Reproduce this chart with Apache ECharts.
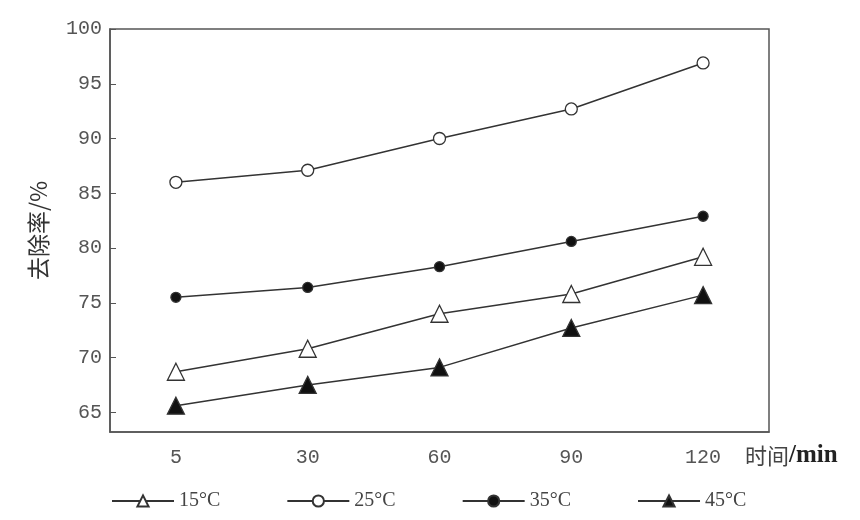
<!DOCTYPE html>
<html><head><meta charset="utf-8">
<script src="https://cdn.jsdelivr.net/npm/echarts@6/dist/echarts.min.js"></script>
<style>html,body{margin:0;padding:0;background:#fff}#c{width:860px;height:520px}</style>
</head><body><div id="c"></div>
<script>
const categories = ['5', '30', '60', '90', '120'];
const s15 = [68.7, 70.8, 74.0, 75.8, 79.2];
const s25 = [86.0, 87.1, 90.0, 92.7, 96.9];
const s35 = [75.5, 76.4, 78.3, 80.6, 82.9];
const s45 = [65.6, 67.5, 69.1, 72.7, 75.7];
const seriesNames = ['15°C', '25°C', '35°C', '45°C'];

const lineColor = '#333';
const serif = '"Liberation Serif", "DejaVu Serif", serif';
const digits = '"Liberation Mono", monospace';
const cjk = '"Noto Sans CJK SC", sans-serif';
const chart = echarts.init(document.getElementById('c'));
function mk(name, data, symbol, size, fill) {
  return {
    name, type: 'line', data, symbol, symbolSize: size,
    lineStyle: { color: lineColor, width: 1.5 },
    itemStyle: { color: fill, borderColor: lineColor, borderWidth: 1.3 },
    emphasis: { disabled: true }
  };
}
chart.setOption({
  animation: false,
  grid: { left: 110, right: 91, top: 29, bottom: 88, show: true, borderColor: '#555', borderWidth: 1.5 },
  xAxis: {
    type: 'category', data: categories, boundaryGap: true,
    axisLine: { lineStyle: { color: '#555', width: 1.5 } },
    axisTick: { inside: true, alignWithLabel: true, length: 6, lineStyle: { color: '#555' } },
    axisLabel: { color: '#555', fontFamily: digits, fontSize: 20, margin: 16 }
  },
  yAxis: {
    type: 'value', min: 63.2, max: 100, splitNumber: 7,
    name: '去除率/%', nameLocation: 'middle', nameRotate: 90, nameGap: 60,
    nameTextStyle: { color: '#333', fontFamily: cjk, fontSize: 23 },
    axisLine: { show: true, lineStyle: { color: '#555', width: 1.5 } },
    axisTick: { show: true, inside: true, length: 6, lineStyle: { color: '#555' } },
    splitLine: { show: false },
    axisLabel: { color: '#555', fontFamily: digits, fontSize: 20, margin: 8, showMinLabel: false,
      formatter: v => (Math.abs(v % 5) < 1e-6 ? String(v) : '') }
  },
  legend: {
    bottom: 4, left: 106, itemWidth: 62, itemHeight: 14, itemGap: 66,
    textStyle: { color: '#444', fontFamily: serif, fontSize: 20 },
    data: seriesNames
  },
  graphic: [{
    type: 'text', left: 745, top: 443,
    style: {
      text: '{a|时间}{b|/min}',
      rich: {
        a: { fontFamily: cjk, fontSize: 22, fill: '#444' },
        b: { fontFamily: serif, fontSize: 25, fontWeight: 'bold', fill: '#222' }
      }
    }
  }],
  series: [
    mk(seriesNames[0], s15, 'triangle', 17, '#fff'),
    mk(seriesNames[1], s25, 'circle', 12, '#fff'),
    mk(seriesNames[2], s35, 'circle', 10, '#111'),
    mk(seriesNames[3], s45, 'triangle', 17, '#111')
  ]
});
</script></body></html>
